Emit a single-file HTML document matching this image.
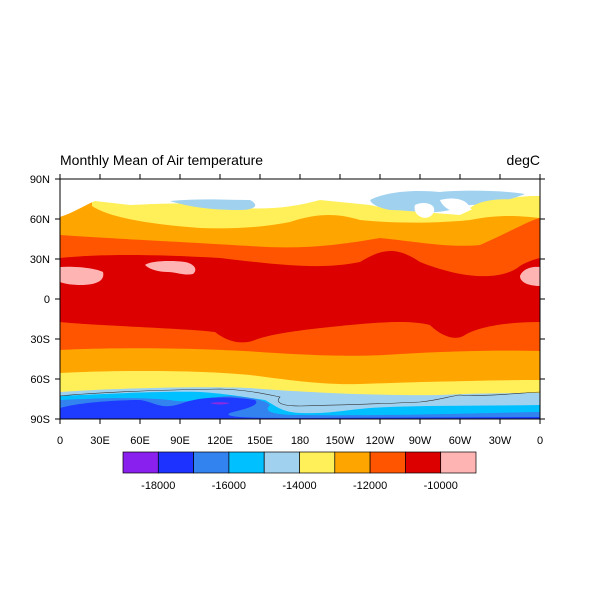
<!DOCTYPE html>
<html><head><meta charset="utf-8"><style>
html,body{margin:0;padding:0;background:#fff;}
svg{display:block;font-family:"Liberation Sans",sans-serif;}
</style></head><body>
<svg width="600" height="600" viewBox="0 0 600 600" xmlns="http://www.w3.org/2000/svg">
<defs><clipPath id="c"><rect x="60" y="179" width="480" height="240"/></clipPath></defs>
<g clip-path="url(#c)">
<rect x="60" y="179" width="480" height="240" fill="#dc0000"/>
<!-- north bands -->
<path d="M60,179 L60,258 C100,254 150,254 220,258 C280,265 320,270 360,262 C380,250 395,245 420,262 C460,278 500,282 520,266 C530,260 540,258 540,258 L540,179Z" fill="#ff5500"/>
<path d="M60,179 L60,235 C100,238 150,240 250,246 C300,250 340,245 380,238 C420,242 450,248 480,245 C510,232 530,220 540,218 L540,179Z" fill="#ffa500"/>
<path d="M92,179 L92,206 C110,218 150,224 200,228 C230,229 260,228 290,222 C320,212 340,214 360,220 C400,224 440,223 470,220 C500,214 520,216 540,218 L540,179Z" fill="#fff05a"/>
<path d="M60,179 L60,217 C75,212 85,205 95,201 L130,205 C170,203 200,202 240,208 C280,210 300,205 320,200 L370,205 C390,210 420,212 460,215 C480,205 500,198 530,196 L540,196 L540,179Z" fill="#ffffff"/>
<path d="M170,201 C200,198 230,200 250,200 C260,205 255,210 240,210 C210,210 190,207 170,201Z" fill="#a0d2f0"/>
<path d="M370,200 C390,190 420,190 440,192 C460,190 500,190 525,194 C510,200 490,205 470,205 L450,210 C430,215 410,210 390,210 C380,208 372,205 370,200Z" fill="#a0d2f0"/>
<path d="M415,205 C425,200 440,205 432,215 C425,222 412,215 415,205Z M440,200 C455,196 470,200 470,210 L460,213 C450,212 442,206 440,200Z" fill="#fff"/>
<path d="M470,208 C480,200 500,198 520,200 C515,210 500,215 480,215 Z" fill="#fff05a"/>
<!-- pink blobs -->
<path d="M60,267 C75,266 95,268 103,272 C105,280 98,285 80,285 C70,285 62,283 60,282Z" fill="#ffb4b4"/>
<path d="M540,267 C530,266 522,270 520,276 C520,283 530,286 540,286Z" fill="#ffb4b4"/>
<path d="M145,265 C150,261 170,260 185,262 C195,264 198,270 193,274 C185,276 175,272 168,272 C160,272 150,270 145,265Z" fill="#ffb4b4"/>
<!-- south bands -->
<path d="M60,419 L60,322 C100,326 180,328 215,332 C225,340 240,346 255,340 C270,334 300,330 340,326 C380,322 410,320 430,325 C440,335 455,342 465,335 C480,326 510,322 540,322 L540,419Z" fill="#ff5500"/>
<path d="M60,419 L60,350 C120,347 200,348 260,352 C320,356 360,357 400,354 C450,351 500,350 540,351 L540,419Z" fill="#ffa500"/>
<path d="M60,419 L60,373 C120,370 200,370 250,375 C290,380 320,385 360,384 C420,382 490,380 540,380 L540,419Z" fill="#fff05a"/>
<path d="M60,419 L60,392 C120,388 200,386 250,388 C300,392 380,396 440,395 C480,393 520,393 540,393 L540,419Z" fill="#a0d2f0"/>
<path d="M60,419 L60,396 C100,394 160,391 200,392 C230,394 250,398 265,400 C275,405 280,412 300,413 C330,414 345,410 370,408 C420,405 480,406 540,405 L540,419Z" fill="#00c0ff"/>
<path d="M60,419 L60,400 C100,398 140,397 170,400 C190,404 200,398 230,396 C250,397 265,400 270,405 C262,412 275,415 300,415 C400,416 480,413 540,412 L540,419Z" fill="#3282f0"/>
<path d="M60,419 L60,408 C80,402 120,400 140,400 C155,402 160,410 180,404 C200,396 230,396 255,400 C262,406 240,410 230,413 C220,418 260,418 300,418 L540,417 L540,419Z" fill="#1e3cff"/>
<path d="M210,403 C215,402 225,402 230,403 C225,405 215,405 210,403Z" fill="#8a2be2"/>
<path d="M60,396 C100,392 160,390 220,389 C250,390 270,395 280,397 C275,402 280,406 300,406 C340,405 380,404 420,402 C440,400 450,396 460,395 C480,397 520,393 540,392" fill="none" stroke="#333" stroke-width="0.6"/>
</g>
<rect x="60" y="179" width="480" height="240" fill="none" stroke="#000" stroke-width="1"/>
<!-- ticks -->
<g stroke="#000" stroke-width="1">
<path d="M60,179v-5M100,179v-5M140,179v-5M180,179v-5M220,179v-5M260,179v-5M300,179v-5M340,179v-5M380,179v-5M420,179v-5M460,179v-5M500,179v-5M540,179v-5"/>
<path d="M60,419v5M100,419v5M140,419v5M180,419v5M220,419v5M260,419v5M300,419v5M340,419v5M380,419v5M420,419v5M460,419v5M500,419v5M540,419v5"/>
<path d="M60,179h-5M60,219h-5M60,259h-5M60,299h-5M60,339h-5M60,379h-5M60,419h-5"/>
<path d="M540,179h5M540,219h5M540,259h5M540,299h5M540,339h5M540,379h5M540,419h5"/>
</g>
<g font-size="11" fill="#000">
<text x="60" y="165" font-size="14">Monthly Mean of Air temperature</text>
<text x="540" y="165" font-size="14" text-anchor="end">degC</text>
<g text-anchor="end">
<text x="50" y="183">90N</text><text x="50" y="223">60N</text><text x="50" y="263">30N</text><text x="50" y="303">0</text><text x="50" y="343">30S</text><text x="50" y="383">60S</text><text x="50" y="423">90S</text>
</g>
<g text-anchor="middle">
<text x="60" y="444">0</text><text x="100" y="444">30E</text><text x="140" y="444">60E</text><text x="180" y="444">90E</text><text x="220" y="444">120E</text><text x="260" y="444">150E</text><text x="300" y="444">180</text><text x="340" y="444">150W</text><text x="380" y="444">120W</text><text x="420" y="444">90W</text><text x="460" y="444">60W</text><text x="500" y="444">30W</text><text x="540" y="444">0</text>
</g>
</g>
<!-- colorbar -->
<g stroke="#000" stroke-width="0.7">
<rect x="123" y="452" width="35.3" height="21" fill="#8a20ee"/>
<rect x="158.3" y="452" width="35.3" height="21" fill="#1e32ff"/>
<rect x="193.6" y="452" width="35.3" height="21" fill="#3282f0"/>
<rect x="228.9" y="452" width="35.3" height="21" fill="#00c0ff"/>
<rect x="264.2" y="452" width="35.3" height="21" fill="#a0d2f0"/>
<rect x="299.5" y="452" width="35.3" height="21" fill="#fff05a"/>
<rect x="334.8" y="452" width="35.3" height="21" fill="#ffa500"/>
<rect x="370.1" y="452" width="35.3" height="21" fill="#ff5500"/>
<rect x="405.4" y="452" width="35.3" height="21" fill="#dc0000"/>
<rect x="440.7" y="452" width="35.3" height="21" fill="#ffb4b4"/>
</g>
<g font-size="11" text-anchor="middle">
<text x="158.3" y="489">-18000</text><text x="228.9" y="489">-16000</text><text x="299.5" y="489">-14000</text><text x="370.1" y="489">-12000</text><text x="440.7" y="489">-10000</text>
</g>
</svg>
</body></html>
